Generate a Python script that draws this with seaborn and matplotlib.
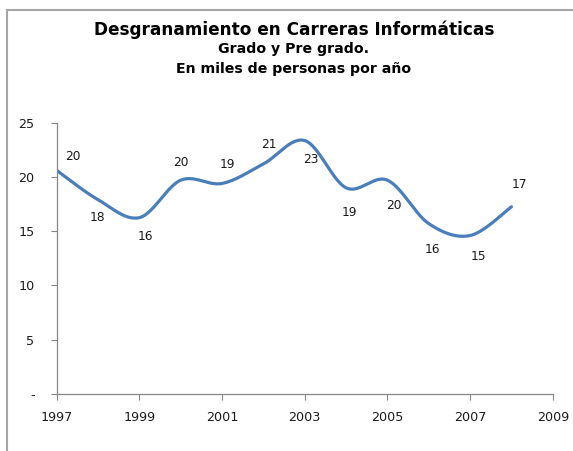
import numpy as np
import seaborn as sns
import matplotlib.pyplot as plt
from matplotlib.lines import Line2D

years = [1997, 1998, 1999, 2000, 2001, 2002, 2003, 2004, 2005, 2006, 2007, 2008]
valores = [20.6, 17.9, 16.25, 19.7, 19.4, 21.2, 23.35, 19.0, 19.7, 15.7, 14.6, 17.25]
etiquetas = ["20", "18", "16", "20", "19", "21", "23", "19", "20", "16", "15", "17"]
xticks = [1997, 1999, 2001, 2003, 2005, 2007, 2009]
yticks = [0, 5, 10, 15, 20, 25]
ytick_labels = ["-", "5", "10", "15", "20", "25"]

# desplazamiento de cada etiqueta respecto a su punto (pixeles)
label_offsets = [(16, 14), (-1, -18), (6, -19), (0, 18), (5, 19), (5, 19),
                 (6, -19), (3, -25), (6, -25), (4, -26), (8, -21), (8, 22)]

color_linea = "#4A7EBB"
gris = "#868686"


def suavizar(x, y, n=30):
    # curva suavizada tipo Excel (Catmull-Rom / Bezier)
    x = np.asarray(x, float)
    y = np.asarray(y, float)
    px = np.concatenate([[x[0]], x, [x[-1]]])
    py = np.concatenate([[y[0]], y, [y[-1]]])
    xs, ys = [], []
    for i in range(1, len(px) - 2):
        p0 = np.array([px[i], py[i]])
        p3 = np.array([px[i + 1], py[i + 1]])
        p1 = p0 + (np.array([px[i + 1], py[i + 1]]) - np.array([px[i - 1], py[i - 1]])) / 6
        p2 = p3 - (np.array([px[i + 2], py[i + 2]]) - np.array([px[i], py[i]])) / 6
        t = np.linspace(0, 1, n)[:, None]
        b = (1 - t) ** 3 * p0 + 3 * (1 - t) ** 2 * t * p1 + 3 * (1 - t) * t ** 2 * p2 + t ** 3 * p3
        xs.extend(b[:, 0])
        ys.extend(b[:, 1])
    return np.array(xs), np.array(ys)


sns.set_style("white")
plt.rcParams['font.family'] = ['DejaVu Sans']

fig = plt.figure(figsize=(5.73, 4.51), dpi=100)
ax = fig.add_axes([0.099, 0.1264, 0.8657, 0.6016])

xs, ys = suavizar(years, valores)
sns.lineplot(x=xs, y=ys, sort=False, color=color_linea, linewidth=2.3, ax=ax)

for x, y, txt, (dx, dy) in zip(years, valores, etiquetas, label_offsets):
    ax.annotate(txt, (x, y), xytext=(dx, dy), textcoords='offset pixels',
                ha='center', va='center', fontsize=8.8, color="#1a1a1a")

ax.set_xlim(1997, 2009)
ax.set_ylim(0, 25)
ax.set_xticks(xticks)
ax.set_yticks(yticks)
ax.set_yticklabels(ytick_labels)
ax.tick_params(axis='both', direction='out', length=4, width=0.8, color=gris,
               labelsize=9.2, labelcolor="#1a1a1a", bottom=True, left=True)
ax.tick_params(axis='y', pad=12)
ax.tick_params(axis='x', pad=8)
for s in ['top', 'right']:
    ax.spines[s].set_visible(False)
for s in ['left', 'bottom']:
    ax.spines[s].set_color(gris)
    ax.spines[s].set_linewidth(0.9)

fig.text(0.513, 1 - 30 / 451, "Desgranamiento en Carreras Informáticas",
         ha='center', va='center', fontsize=12.2, fontweight='bold', color='black')
fig.text(0.513, 1 - 49 / 451, "Grado y Pre grado.",
         ha='center', va='center', fontsize=10.2, fontweight='bold', color='black')
fig.text(0.513, 1 - 68.5 / 451, "En miles de personas por año",
         ha='center', va='center', fontsize=10.2, fontweight='bold', color='black')

# borde del area del grafico (solo visible arriba e izquierda)
fig.add_artist(Line2D([7 / 573, 7 / 573], [0, 1 - 9.5 / 451], transform=fig.transFigure,
                      color="#A6A6A6", linewidth=1.5))
fig.add_artist(Line2D([7 / 573, 1], [1 - 9.5 / 451, 1 - 9.5 / 451], transform=fig.transFigure,
                      color="#A6A6A6", linewidth=1.5))

fig.savefig("out.png", dpi=100)
